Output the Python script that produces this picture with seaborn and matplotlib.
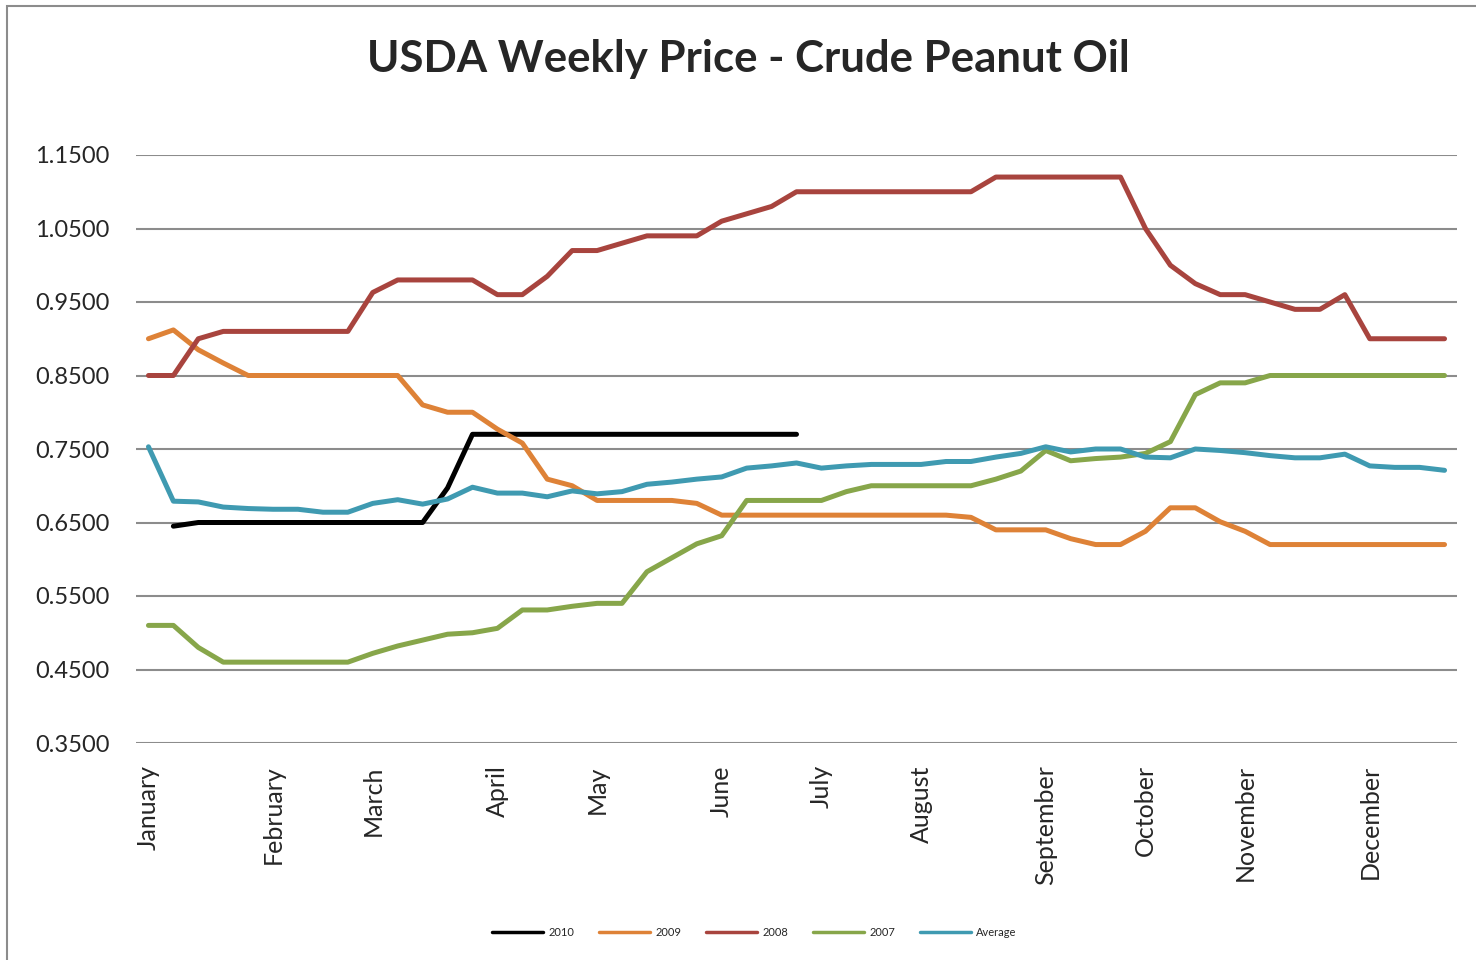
import matplotlib
matplotlib.use("Agg")
import matplotlib.pyplot as plt
import seaborn as sns
import numpy as np
import pandas as pd
from matplotlib.patches import Rectangle

# weekly prices, 53 weeks
nan = np.nan
y2010 = [nan, 0.645] + [0.65] * 10 + [0.697] + [0.77] * 14 + [nan] * 26
y2009 = [0.90, 0.912, 0.885, 0.867] + [0.85] * 7 + \
        [0.81, 0.80, 0.80, 0.777, 0.758, 0.709, 0.70] + [0.68] * 4 + \
        [0.676] + [0.66] * 10 + [0.657, 0.64, 0.64, 0.64] + \
        [0.628, 0.62, 0.62, 0.638, 0.67, 0.67, 0.651, 0.638] + [0.62] * 8
y2008 = [0.85, 0.85, 0.90] + [0.91] * 6 + [0.963, 0.98, 0.98, 0.98, 0.98] + \
        [0.96, 0.96, 0.985, 1.02, 1.02, 1.03, 1.04, 1.04, 1.04, 1.06, 1.07, 1.08] + \
        [1.10] * 8 + [1.12] * 6 + \
        [1.05, 1.00, 0.975, 0.96, 0.96, 0.95, 0.94, 0.94, 0.96] + [0.90] * 4
y2007 = [0.51, 0.51, 0.48] + [0.46] * 6 + \
        [0.472, 0.482, 0.49, 0.498, 0.50, 0.506, 0.531, 0.531, 0.536, 0.54, 0.54,
         0.583, 0.602, 0.621, 0.632] + [0.68] * 4 + [0.692] + [0.70] * 5 + \
        [0.709, 0.72, 0.748, 0.734, 0.737, 0.739, 0.744, 0.76, 0.824, 0.84, 0.84] + [0.85] * 8
avg = [0.753, 0.679, 0.678, 0.671, 0.669, 0.668, 0.668, 0.664, 0.664, 0.676,
       0.681, 0.675, 0.682, 0.698, 0.690, 0.690, 0.685, 0.693, 0.689, 0.692,
       0.702, 0.705, 0.709, 0.712, 0.724, 0.727, 0.731, 0.724, 0.727, 0.729,
       0.729, 0.729, 0.733, 0.733, 0.739, 0.744, 0.753, 0.746, 0.750, 0.750,
       0.739, 0.738, 0.750, 0.748, 0.745, 0.741, 0.738, 0.738, 0.743, 0.727,
       0.725, 0.725, 0.721]

month_pos = [0, 5, 9, 14, 18, 23, 27, 31, 36, 40, 44, 49]
months = ["January", "February", "March", "April", "May", "June", "July",
          "August", "September", "October", "November", "December"]

series = ["2010", "2009", "2008", "2007", "Average"]
colors = ["#000000", "#DE8237", "#A8443E", "#87A64A", "#3F9AB1"]

df = pd.DataFrame({"week": np.arange(53), "2010": y2010, "2009": y2009,
                   "2008": y2008, "2007": y2007, "Average": avg})
long = df.melt(id_vars="week", var_name="series", value_name="price").dropna()

sns.set_style("white")
plt.rcParams["font.family"] = ["Lato", "DejaVu Sans"]

fig = plt.figure(figsize=(14.76, 9.6), dpi=100)
ax = fig.add_axes([136 / 1476, 1 - 743 / 960, (1457 - 136) / 1476, (743 - 155) / 960])

sns.lineplot(data=long, x="week", y="price", hue="series", hue_order=series,
             palette=colors, linewidth=3.6, ax=ax, legend=False)
for ln in ax.lines:
    ln.set_solid_capstyle("round")
    ln.set_solid_joinstyle("round")

ax.set_xlim(-0.5, 52.5)
ax.set_ylim(0.35, 1.15)
ax.set_yticks(np.arange(0.35, 1.1501, 0.1))
ax.set_yticklabels([f"{v:.4f}" for v in np.arange(0.35, 1.1501, 0.1)], fontsize=17)
ax.set_xticks(month_pos)
ax.set_xticklabels(months, rotation=90, fontsize=18, va="top")
ax.tick_params(axis="x", length=0, pad=16)
ax.tick_params(axis="y", length=0, pad=19)
ax.yaxis.grid(True, color="#8c8c8c", linewidth=1.5)
ax.set_axisbelow(True)
for s in ax.spines.values():
    s.set_visible(False)
ax.set_xlabel("")
ax.set_ylabel("")

fig.text(0.507, 1 - 59 / 960, "USDA Weekly Price - Crude Peanut Oil",
         ha="center", va="center", fontsize=31.5, fontweight="bold")

# chart-area frame
fig.patches.append(Rectangle((7 / 1476, -0.1), 1.2, 1 - 6 / 960 + 0.1,
                             transform=fig.transFigure, fill=False,
                             edgecolor="#8c8c8c", linewidth=1.5))

handles = [plt.Line2D([], [], color=c, linewidth=2.5) for c in colors]
fig.legend(handles, series, loc="center", bbox_to_anchor=(0.511, 1 - 932 / 960),
           ncol=5, frameon=False, fontsize=8, handlelength=4.6,
           handletextpad=0.5, columnspacing=2.2)

fig.savefig("out.png", dpi=100)
